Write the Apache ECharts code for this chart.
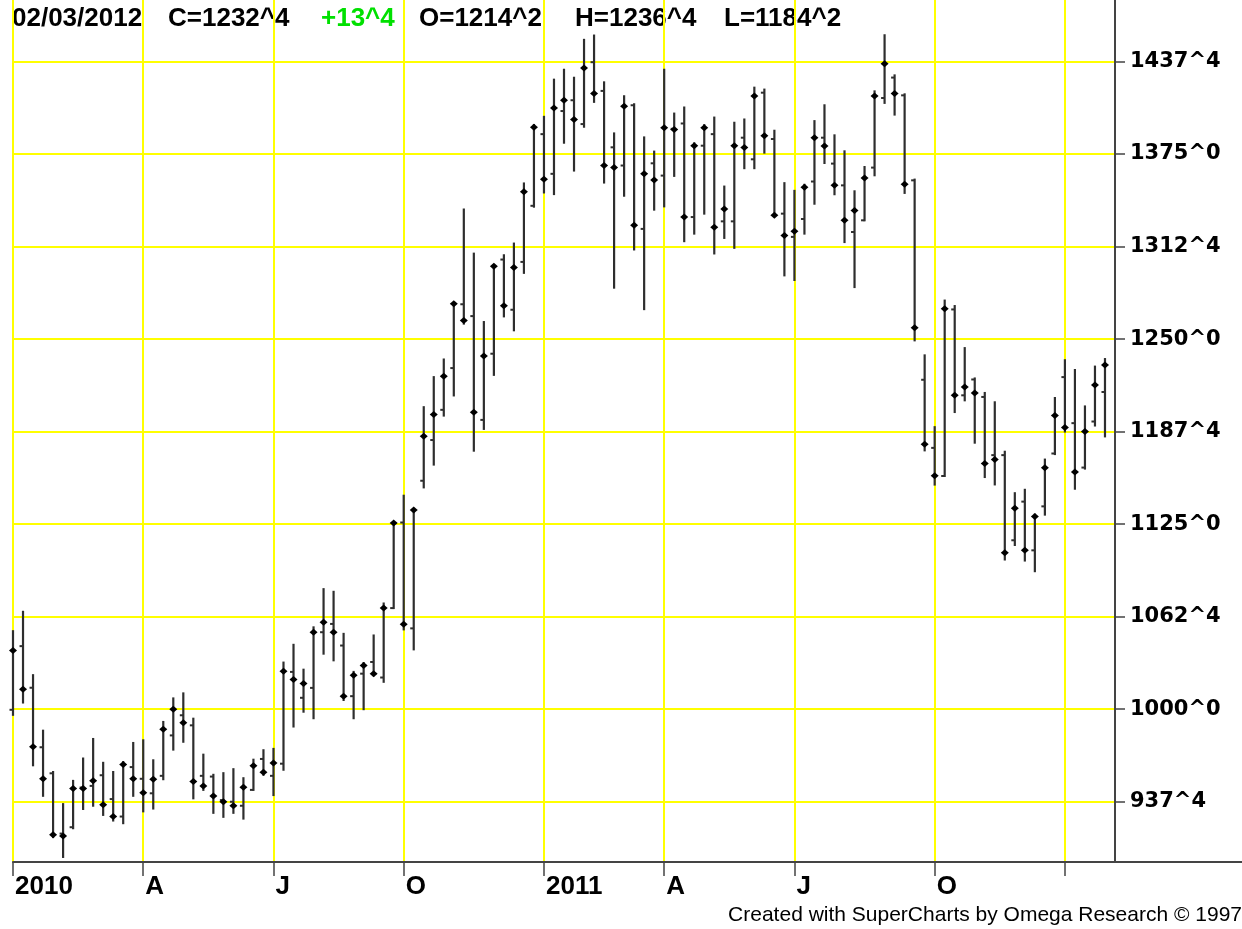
<!DOCTYPE html>
<html>
<head>
<meta charset="utf-8">
<title>SuperCharts weekly bars</title>
<script src="https://cdn.jsdelivr.net/npm/echarts@6/dist/echarts.min.js"></script>
<style>
  html, body { margin: 0; padding: 0; background: #ffffff; }
  #main { width: 1242px; height: 929px; }
</style>
</head>
<body>
<div id="main"></div>
<script>
// weekly bars, first bar = Fri 01/01/2010, last = Fri 02/03/2012
var startDate = new Date(2010, 0, 1);

var opens = [999.6,1042.6,1014.5,974.3,956.7,916,920.3,947.1,948.2,955.4,
  939.3,927.5,960.9,953,943.2,955,982.3,995.9,989.1,955,
  954.5,938.6,937.5,934.8,945.5,966.4,955,963.2,1025.2,1007.7,
  1014.4,1052,1057.6,1043,1008.8,1024,1031.9,1021.4,1068.3,1126.1,
  1054.6,1154.3,1181.8,1202.2,1230.4,1273.5,1265.5,1195.4,1240.1,1303.7,
  1269.8,1302.1,1340,1388.4,1361.6,1404,1411.3,1395.2,1437,1417.6,
  1379.5,1367.2,1407.9,1324.4,1368.7,1360.4,1392,1395.6,1332.4,1380.6,
  1388.4,1329.5,1329.5,1386,1371.4,1416.4,1385.1,1334.7,1319,1331.1,
  1356.4,1386,1368.5,1353.8,1322.3,1330.2,1365.8,1412.8,1426.6,1414.6,
  1357.2,1222.5,1176.5,1157.5,1270,1212,1222.7,1210.9,1171.6,1171.6,
  1114.1,1140.2,1107.3,1137,1172.7,1224.3,1193.2,1163.2,1194.3,1214.25];

var highs = [1052.7,1065.8,1023,985.5,957.6,935.9,951.6,966.7,979.9,963.8,
  957.6,964.3,977.2,979,965.5,991.4,1007.3,1010.7,993.6,969.3,
  955.7,956.8,959.5,953.4,965.9,972.3,973.2,1031.5,1043.5,1026.7,
  1055.3,1081.1,1079.3,1050.9,1025.2,1031.2,1049.8,1071.4,1125.8,1144.2,
  1135.2,1204,1224.3,1236.2,1273.9,1337.5,1307.7,1261.5,1299.8,1306.6,
  1314.5,1355.1,1394.6,1400.1,1425.2,1431.9,1426.5,1452.1,1455,1423.4,
  1388.9,1414,1408.6,1386.2,1376.6,1431.9,1402.3,1406.4,1382.2,1394.5,
  1399.6,1353,1396.1,1398.3,1419.8,1418.5,1390.7,1355.3,1350.1,1354.2,
  1397.2,1407.9,1387.6,1376.8,1349.8,1366.2,1417.3,1455.2,1428.1,1415.3,
  1357.7,1239,1190.5,1276,1272.3,1243.9,1223.4,1213.6,1207.3,1173.9,
  1145.9,1148.2,1131.4,1168.6,1210.2,1235.7,1229.1,1204.5,1231.4,1236.5];

var lows = [996.2,1004.5,962.1,941.5,913.6,900.2,919.6,932.6,934.8,928.6,
  924.8,923,941.5,931,932.9,952.7,972.7,978,939.8,945.5,
  930,927.3,930,926.1,945.5,955.7,942,959.1,988.3,998.3,
  993.9,1037.5,1033,1006.2,993.9,1000,1022.9,1018.5,1068.3,1053.9,
  1040.4,1149.8,1165.2,1198.3,1211.9,1260.4,1174.6,1189.3,1225.8,1265.3,
  1255.9,1294.7,1339.4,1349,1347.9,1382.6,1363.8,1393.4,1410.2,1355.7,
  1284.7,1346.8,1310.5,1270.2,1337.4,1339.6,1360.2,1316.1,1321.2,1334.7,
  1307.8,1318.3,1311.6,1365.4,1365.4,1375.9,1333.3,1293,1289.9,1321.2,
  1341.4,1368.9,1347.8,1315.5,1285.1,1330.2,1360.6,1409.5,1401.6,1348.7,
  1249.1,1174.8,1151.7,1157.5,1200.7,1208.6,1180,1156.8,1151.8,1101.1,
  1110.9,1100.4,1093.2,1131.4,1172.3,1187.5,1148.9,1162.5,1191.6,1184.25];

var closes = [1039.7,1013.4,974.6,953.1,915.2,914.3,946.4,946.4,951.6,935.5,
  927.5,962.7,953.1,943.5,952.7,986.4,1000,990.9,951.1,948.2,
  941.4,937.5,934.8,947.3,961.8,957.5,963.6,1025.6,1020,1017.3,
  1052,1058.7,1052,1008.8,1022.9,1029.6,1024,1068.3,1125.8,1057.3,
  1134.5,1184.3,1199,1224.9,1273.9,1262.6,1200.6,1238.5,1299.2,1272.5,
  1298.3,1349.5,1393.1,1358,1406.1,1411.3,1398.3,1433,1415.8,1367.2,
  1365.8,1407.3,1326.8,1361.6,1357.5,1392.7,1391.6,1332.4,1380.6,1392.7,
  1325.5,1337.8,1380.6,1379.3,1414.2,1387.3,1333.6,1319.9,1322.8,1352.6,
  1386,1380.4,1353.8,1330.2,1336.9,1358.8,1414.2,1436,1415.8,1354.5,
  1257.7,1178.9,1157.7,1270.4,1212,1217.7,1213.6,1165.9,1168.6,1105.7,
  1135.7,1107.3,1130.2,1163,1198.4,1190.2,1160.2,1187.5,1219,1232.5];

var yTicks = [937.5, 1000, 1062.5, 1125, 1187.5, 1250, 1312.5, 1375, 1437.5];
var quarterLabels = ['2010', 'A', 'J', 'O', '2011', 'A', 'J', 'O', ''];

// price in 1/8ths like 1437^4
function eighths(v) {
  var w = Math.floor(v);
  return w + '^' + Math.round((v - w) * 8);
}
function pad(n) { return (n < 10 ? '0' : '') + n; }

var n = closes.length;
var dates = [];
var quarterIdx = {};
var q = 0, prevMonth = -1;
for (var i = 0; i < n; i++) {
  var d = new Date(startDate.getFullYear(), startDate.getMonth(), startDate.getDate() + 7 * i);
  dates.push(pad(d.getMonth() + 1) + '/' + pad(d.getDate()) + '/' + d.getFullYear());
  if (d.getMonth() !== prevMonth && d.getMonth() % 3 === 0) {
    quarterIdx[i] = quarterLabels[q++];
  }
  prevMonth = d.getMonth();
}
dates.push(''); // one empty slot before the price scale

var bars = [];
for (var i = 0; i < n; i++) {
  bars.push([i, opens[i], highs[i], lows[i], closes[i]]);
}

function isQuarter(idx) { return quarterIdx.hasOwnProperty(idx); }

function renderBar(params, api) {
  var idx = api.value(0);
  var x = api.coord([idx, api.value(2)])[0];
  var o = api.coord([idx, api.value(1)])[1];
  var h = api.coord([idx, api.value(2)])[1];
  var l = api.coord([idx, api.value(3)])[1];
  var c = api.coord([idx, api.value(4)])[1];
  return {
    type: 'group',
    children: [
      { type: 'line', shape: { x1: x, y1: h - 1, x2: x, y2: l + 1 }, style: { stroke: '#2e2e2e', lineWidth: 2.2 } },
      { type: 'line', shape: { x1: x - 3.5, y1: o, x2: x, y2: o }, style: { stroke: '#2e2e2e', lineWidth: 2 } },
      { type: 'polygon', shape: { points: [[x - 4, c], [x, c - 3.5], [x + 4, c], [x, c + 3.5]] }, style: { fill: '#000000' } }
    ]
  };
}

var last = n - 1;
var chg = closes[last] - closes[last - 1];
var headFont = 'bold 26px "Liberation Sans", Arial, sans-serif';

var chart = echarts.init(document.getElementById('main'));
var option = {
  animation: false,
  backgroundColor: '#ffffff',
  grid: { left: 13, right: 127, top: 0, bottom: 67 },
  xAxis: {
    type: 'category',
    data: dates,
    boundaryGap: false,
    axisLine: { show: true, lineStyle: { color: '#444444', width: 2 } },
    axisTick: { show: true, interval: isQuarter, length: 14, lineStyle: { color: '#444444', width: 1.5 } },
    axisLabel: {
      interval: isQuarter,
      formatter: function (v, idx) { return quarterIdx[idx] || ''; },
      align: 'left',
      padding: [0, 0, 0, 2],
      margin: 12,
      color: '#000000',
      fontFamily: '"Liberation Sans", Arial, sans-serif',
      fontWeight: 'bold',
      fontSize: 26
    },
    splitLine: { show: true, interval: isQuarter, lineStyle: { color: '#ffff00', width: 2 } }
  },
  yAxis: {
    type: 'value',
    position: 'right',
    min: 896.8,
    max: 1479,
    axisLine: { show: true, lineStyle: { color: '#444444', width: 2 } },
    axisTick: { show: true, customValues: yTicks, length: 10, lineStyle: { color: '#444444', width: 1.5 } },
    axisLabel: {
      customValues: yTicks,
      formatter: eighths,
      margin: 15,
      color: '#000000',
      fontFamily: '"DejaVu Sans", sans-serif',
      fontWeight: 'bold',
      fontSize: 21
    },
    splitLine: { show: true, lineStyle: { color: '#ffff00', width: 2 } }
  },
  series: [{
    type: 'custom',
    renderItem: renderBar,
    encode: { x: 0, y: [1, 2, 3, 4] },
    data: bars,
    z: 5
  }],
  graphic: [
    { type: 'text', x: 12, y: 19, style: { text: dates[last], font: headFont, fill: '#000', textVerticalAlign: 'middle' } },
    { type: 'text', x: 168, y: 19, style: { text: 'C=' + eighths(closes[last]), font: headFont, fill: '#000', textVerticalAlign: 'middle' } },
    { type: 'text', x: 321, y: 19, style: { text: (chg >= 0 ? '+' : '-') + eighths(Math.abs(chg)), font: headFont, fill: '#00e000', textVerticalAlign: 'middle' } },
    { type: 'text', x: 419, y: 19, style: { text: 'O=' + eighths(opens[last]), font: headFont, fill: '#000', textVerticalAlign: 'middle' } },
    { type: 'text', x: 575, y: 19, style: { text: 'H=' + eighths(highs[last]), font: headFont, fill: '#000', textVerticalAlign: 'middle' } },
    { type: 'text', x: 724, y: 19, style: { text: 'L=' + eighths(lows[last]), font: headFont, fill: '#000', textVerticalAlign: 'middle' } },
    { type: 'line', shape: { x1: 1115, y1: 862, x2: 1242, y2: 862 }, style: { stroke: '#444444', lineWidth: 2 } },
    { type: 'text', right: 0, y: 915, style: { text: 'Created with SuperCharts by Omega Research \u00a9 1997', font: '21px "Liberation Sans", Arial, sans-serif', fill: '#000', textVerticalAlign: 'middle' } }
  ]
};
chart.setOption(option);
</script>
</body>
</html>
